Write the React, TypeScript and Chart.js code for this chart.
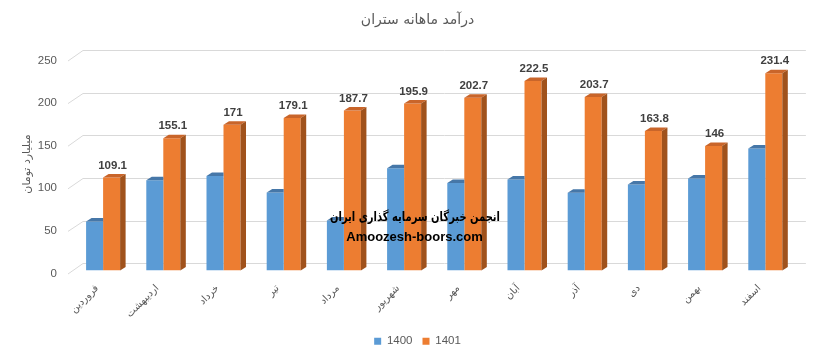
import React, { useEffect, useRef } from 'react';
import { Chart, registerables } from 'chart.js';

Chart.register(...registerables);

const titleText = 'درآمد ماهانه ستران';
const yAxisTitle = 'میلیارد تومان';
const categories = ['فروردین', 'اردیبهشت', 'خرداد', 'تیر', 'مرداد', 'شهریور', 'مهر', 'آبان', 'آذر', 'دی', 'بهمن', 'اسفند'];
const seriesNames = ['1400', '1401'];
const values1400 = [57.6, 105.9, 111, 91.5, 58.8, 120, 102.7, 106.7, 91.4, 100.8, 107.9, 143.2];
const values1401 = [109.1, 155.1, 171, 179.1, 187.7, 195.9, 202.7, 222.5, 203.7, 163.8, 146, 231.4];
const yTickValues = [0, 50, 100, 150, 200, 250];
const watermarkLines = ['انجمن خبرگان سرمایه گذاری ایران', 'Amoozesh-boors.com'];

const BLUE = '#5B9BD5';
const BLUE_TOP = '#4677A8';
const ORANGE = '#ED7D31';
const ORANGE_TOP = '#C9652A';
const ORANGE_SIDE = '#A0521C';
const GRID = '#D9D9D9';
const TEXT = '#595959';
const DX = 5.5;
const DY = 3.5;

const bar3dPlugin = {
  id: 'bar3d',
  beforeDatasetsDraw(chart: any) {
    const { ctx, chartArea, scales } = chart;
    const y = scales.y;
    ctx.save();
    ctx.strokeStyle = GRID;
    ctx.lineWidth = 1;
    for (const v of yTickValues) {
      const yf = y.getPixelForValue(v);
      const yb = Math.round(yf - 7.3) + 0.5;
      ctx.beginPath();
      ctx.moveTo(chartArea.left - 5, yf + 3.5);
      ctx.lineTo(chartArea.left + 10, yb);
      ctx.lineTo(chartArea.right + 10.5, yb);
      ctx.stroke();
    }
    ctx.restore();
  },
  afterDatasetsDraw(chart: any) {
    const ctx = chart.ctx;
    ctx.save();
    chart.getDatasetMeta(0).data.forEach((bar: any) => {
      const { x, y, width } = bar.getProps(['x', 'y', 'width'], true);
      const x0 = x - width / 2;
      const x1 = x + width / 2;
      ctx.fillStyle = BLUE_TOP;
      ctx.beginPath();
      ctx.moveTo(x0, y);
      ctx.lineTo(x1, y);
      ctx.lineTo(x1, y - DY);
      ctx.lineTo(x0 + DX, y - DY);
      ctx.closePath();
      ctx.fill();
    });
    const meta1 = chart.getDatasetMeta(1);
    meta1.data.forEach((bar: any, i: number) => {
      const { x, y, width, base } = bar.getProps(['x', 'y', 'width', 'base'], true);
      const x0 = x - width / 2;
      const x1 = x + width / 2;
      ctx.fillStyle = ORANGE_TOP;
      ctx.beginPath();
      ctx.moveTo(x0, y);
      ctx.lineTo(x1, y);
      ctx.lineTo(x1 + DX, y - DY);
      ctx.lineTo(x0 + DX, y - DY);
      ctx.closePath();
      ctx.fill();
      ctx.fillStyle = ORANGE_SIDE;
      ctx.beginPath();
      ctx.moveTo(x1, y);
      ctx.lineTo(x1 + DX, y - DY);
      ctx.lineTo(x1 + DX, base - DY);
      ctx.lineTo(x1, base);
      ctx.closePath();
      ctx.fill();
      ctx.fillStyle = '#404040';
      ctx.font = 'bold 11.5px "Liberation Sans", Arial, sans-serif';
      ctx.textAlign = 'center';
      ctx.textBaseline = 'alphabetic';
      ctx.fillText(String(values1401[i]), x + 1, y - 9);
    });
    ctx.restore();
  },
  afterDraw(chart: any) {
    const ctx = chart.ctx;
    ctx.save();
    ctx.fillStyle = '#000000';
    ctx.textAlign = 'center';
    ctx.textBaseline = 'middle';
    ctx.font = 'bold 13px "DejaVu Sans", sans-serif';
    ctx.fillText(watermarkLines[0], 415, 218, 170);
    ctx.font = 'bold 13px "Liberation Sans", Arial, sans-serif';
    ctx.fillText(watermarkLines[1], 414.5, 237);
    ctx.restore();
  },
};

export default function App() {
  const canvasRef = useRef<HTMLCanvasElement | null>(null);

  useEffect(() => {
    if (!canvasRef.current) return;
    const chart = new Chart(canvasRef.current, {
      type: 'bar',
      data: {
        labels: categories,
        datasets: [
          {
            label: seriesNames[0],
            data: values1400,
            backgroundColor: BLUE,
            borderWidth: 0,
            categoryPercentage: 0.565,
            barPercentage: 1,
          },
          {
            label: seriesNames[1],
            data: values1401,
            backgroundColor: ORANGE,
            borderWidth: 0,
            categoryPercentage: 0.565,
            barPercentage: 1,
          },
        ],
      },
      options: {
        responsive: false,
        animation: false,
        events: [],
        layout: { padding: 0 },
        scales: {
          x: {
            grid: { display: false, drawTicks: false },
            border: { display: false },
            ticks: {
              autoSkip: false,
              minRotation: 45,
              maxRotation: 45,
              padding: 12,
              labelOffset: -6,
              color: TEXT,
              font: { family: '"DejaVu Sans", sans-serif', size: 10 },
            },
            afterFit(scale: any) {
              scale.height = 55;
            },
          },
          y: {
            min: 0,
            max: 250,
            grid: { display: false, drawTicks: false },
            border: { display: false },
            ticks: {
              stepSize: 50,
              padding: 16,
              labelOffset: 3,
              color: TEXT,
              font: { family: '"Liberation Sans", Arial, sans-serif', size: 11.5 },
            },
            title: {
              display: true,
              text: yAxisTitle,
              color: TEXT,
              padding: { top: 21, bottom: 0 },
              font: { family: '"DejaVu Sans", sans-serif', size: 11 },
            },
            afterFit(scale: any) {
              scale.width = 73;
            },
          },
          yRight: {
            type: 'linear',
            position: 'right',
            display: true,
            grid: { display: false, drawTicks: false },
            border: { display: false },
            ticks: { display: false },
            afterFit(scale: any) {
              scale.width = 39.6;
            },
          },
        },
        plugins: {
          title: {
            display: true,
            text: titleText,
            color: TEXT,
            padding: { top: 12, bottom: 28.7 },
            font: { family: '"DejaVu Sans", sans-serif', size: 14, weight: 'normal' },
          },
          legend: {
            display: true,
            position: 'bottom',
            labels: {
              boxWidth: 7,
              boxHeight: 7,
              padding: 10,
              color: TEXT,
              font: { family: '"Liberation Sans", Arial, sans-serif', size: 11.5 },
            },
          },
          tooltip: { enabled: false },
        },
      },
      plugins: [bar3dPlugin],
    } as any);
    return () => chart.destroy();
  }, []);

  return (
    <div style={{ position: 'fixed', left: 0, top: 0, width: 835, height: 357, background: '#ffffff' }}>
      <canvas ref={canvasRef} width={835} height={357} style={{ display: 'block' }} />
    </div>
  );
}
